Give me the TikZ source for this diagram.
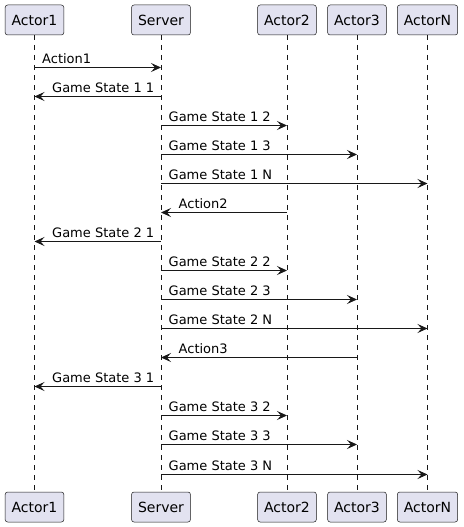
\documentclass[tikz,border=0pt]{standalone}
\usepackage{fontspec}
\setmainfont{DejaVu Sans}
\usetikzlibrary{arrows.meta}
\definecolor{ln}{HTML}{181818}
\definecolor{boxfill}{HTML}{E2E2F0}
\begin{document}
\begin{tikzpicture}[x=1pt,y=-1pt,
  part/.style={draw=ln, fill=boxfill, line width=0.5pt, rounded corners=2.5pt,
    minimum height=30pt, inner xsep=6.5pt, font=\fontsize{14}{16}\selectfont, text=black},
  life/.style={draw=ln, line width=0.5pt, dash pattern=on 5pt off 5pt},
  msg/.style={draw=ln, line width=1pt, -{Stealth[length=10pt,width=9pt,inset=4pt]}},
  lbl/.style={anchor=base west, inner sep=0pt, font=\fontsize{13}{15}\selectfont, text=black}]
\useasboundingbox (0,0) rectangle (463,527);
% lifelines first (behind boxes)
\foreach \n/\x/\t in {p1/34.5/Actor1, p2/161/Server, p3/287/Actor2, p4/357/Actor3, p5/427.5/ActorN}{
  \coordinate (\n top) at (\x,35);
  \coordinate (\n bot) at (\x,492);
  \draw[life] (\n top) -- (\n bot);
  \node[part] (\n t) at (\x,20) {\t};
  \node[part] (\n b) at (\x,507) {\t};
}
\foreach \i/\y/\a/\b/\lx/\t in {
  1/67.5/p1/p2/42/Action1,
  2/96.5/p2/p1/52/Game State 1 1,
  3/125.5/p2/p3/168.5/Game State 1 2,
  4/154.5/p2/p4/168.5/Game State 1 3,
  5/183.5/p2/p5/168.5/Game State 1 N,
  6/212.5/p3/p2/178.5/Action2,
  7/241.5/p2/p1/52/Game State 2 1,
  8/270.5/p2/p3/168.5/Game State 2 2,
  9/299.5/p2/p4/168.5/Game State 2 3,
  10/328.5/p2/p5/168.5/Game State 2 N,
  11/357.5/p4/p2/178.5/Action3,
  12/386.5/p2/p1/52/Game State 3 1,
  13/415.5/p2/p3/168.5/Game State 3 2,
  14/444.5/p2/p4/168.5/Game State 3 3,
  15/474.5/p2/p5/168.5/Game State 3 N}{
  \coordinate (s\i) at (\a top |- 0,\y);
  \coordinate (e\i) at (\b top |- 0,\y);
  \draw[msg] (s\i) -- (e\i);
  \node[lbl] (l\i) at (\lx,\y-4.3) {\t};
}
\end{tikzpicture}
\end{document}
